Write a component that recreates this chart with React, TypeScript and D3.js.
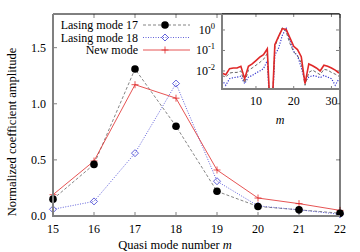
import React, { useEffect, useRef } from 'react';
import * as d3 from 'd3';

// quasi mode numbers m = 1..32 (inset), main plot shows 15..22
const modes = d3.range(1, 33);
const mainModes = [15, 16, 17, 18, 19, 20, 21, 22];

// coefficient amplitudes (m = 1..32); 0 at m = 14 drops out of the log inset
const lasing17 = [
  0.006, 0.005, 0.0079, 0.0085, 0.0085, 0.01, 0.0026, 0.011, 0.014, 0.019,
  0.026, 0.037, 0.07, 0, 0.15, 0.46, 1.31, 0.8, 0.22, 0.085, 0.055, 0.025,
  0.002, 0.0085, 0.011, 0.0085, 0.0066, 0.012, 0.011, 0.0085, 0.007, 0.0055,
];
const lasing18 = [
  0.0035, 0.002, 0.0042, 0.0047, 0.005, 0.0055, 0.0024, 0.005, 0.006, 0.0079,
  0.01, 0.013, 0.032, 0, 0.06, 0.13, 0.56, 1.18, 0.31, 0.09, 0.055, 0.015,
  0.003, 0.005, 0.006, 0.0055, 0.0047, 0.006, 0.005, 0.0042, 0.002, 0.0042,
];
const newMode = [
  0.0079, 0.0066, 0.013, 0.014, 0.014, 0.017, 0.0042, 0.017, 0.022, 0.032,
  0.047, 0.063, 0.12, 0, 0.19, 0.49, 1.17, 1.05, 0.41, 0.16, 0.11, 0.05,
  0.0024, 0.022, 0.018, 0.014, 0.01, 0.019, 0.017, 0.014, 0.011, 0.0079,
];

const yTicks = [0, 0.5, 1.0, 1.5];
const insetXTicks = [10, 20, 30];
const insetYTicks = [0, -1, -2]; // powers of ten
const legendLabels = ['Lasing mode 17', 'Lasing mode 18', 'New mode'];

const FONT = '"Liberation Serif", "DejaVu Serif", serif';
const GRAY = '#808080';
const BLACK_LINE = '#666666';
const BLUE = '#3a3ad0';
const RED = '#e02828';

const App: React.FC = () => {
  const ref = useRef(null);

  useEffect(() => {
    if (!ref.current) return;
    const svg = d3.select(ref.current);
    svg.selectAll('*').remove();

    const left = 53;
    const right = 340;
    const top = 14;
    const bottom = 216;

    const x = d3.scaleLinear().domain([15, 22]).range([left, right]);
    const y = d3.scaleLinear().domain([0, 1.8]).range([bottom, top]);

    // ticks (mirrored like gnuplot)
    const ticks = svg.append('g').attr('stroke', GRAY).attr('stroke-width', 1);
    mainModes.forEach((m) => {
      ticks.append('line').attr('x1', x(m)).attr('x2', x(m)).attr('y1', bottom).attr('y2', bottom - 4);
      ticks.append('line').attr('x1', x(m)).attr('x2', x(m)).attr('y1', top).attr('y2', top + 4);
    });
    yTicks.forEach((v) => {
      ticks.append('line').attr('x1', left).attr('x2', left + 4).attr('y1', y(v)).attr('y2', y(v));
      ticks.append('line').attr('x1', right).attr('x2', right - 4).attr('y1', y(v)).attr('y2', y(v));
    });

    // tick labels
    svg
      .append('g')
      .selectAll('text')
      .data(mainModes)
      .enter()
      .append('text')
      .attr('x', (d) => x(d))
      .attr('y', 233)
      .attr('text-anchor', 'middle')
      .attr('font-family', FONT)
      .attr('font-size', 12)
      .text((d) => d);
    svg
      .append('g')
      .selectAll('text')
      .data(yTicks)
      .enter()
      .append('text')
      .attr('x', 46)
      .attr('y', (d) => y(d) + 4)
      .attr('text-anchor', 'end')
      .attr('font-family', FONT)
      .attr('font-size', 12)
      .text((d) => d.toFixed(1));

    // axis titles
    svg
      .append('text')
      .attr('transform', `translate(16,132) rotate(-90)`)
      .attr('text-anchor', 'middle')
      .attr('font-family', FONT)
      .attr('font-size', 12.5)
      .text('Normalized coefficient amplitude');
    const xt = svg
      .append('text')
      .attr('x', 175)
      .attr('y', 249)
      .attr('text-anchor', 'middle')
      .attr('font-family', FONT)
      .attr('font-size', 12.5);
    xt.append('tspan').text('Quasi mode number ');
    xt.append('tspan').attr('font-style', 'italic').text('m');

    // main series
    const pick = (arr: number[]) => mainModes.map((m) => ({ m, v: arr[m - 1] }));
    const line = d3
      .line<{ m: number; v: number }>()
      .x((d) => x(d.m))
      .y((d) => y(d.v));

    const s17 = pick(lasing17);
    const s18 = pick(lasing18);
    const sNew = pick(newMode);

    svg.append('path').attr('d', line(s17)).attr('fill', 'none').attr('stroke', BLACK_LINE).attr('stroke-width', 0.8).attr('stroke-dasharray', '3,2');
    svg.append('path').attr('d', line(s18)).attr('fill', 'none').attr('stroke', BLUE).attr('stroke-width', 0.8).attr('stroke-dasharray', '1,1.5');
    svg.append('path').attr('d', line(sNew)).attr('fill', 'none').attr('stroke', RED).attr('stroke-width', 0.8);

    const diamond = (cx: number, cy: number, r: number) =>
      `M${cx},${cy - r}L${cx + r},${cy}L${cx},${cy + r}L${cx - r},${cy}Z`;
    const plus = (cx: number, cy: number, r: number) =>
      `M${cx - r},${cy}H${cx + r}M${cx},${cy - r}V${cy + r}`;

    svg.append('g').selectAll('path').data(s18).enter().append('path')
      .attr('d', (d) => diamond(x(d.m), y(d.v), 3.5))
      .attr('fill', 'none').attr('stroke', BLUE).attr('stroke-width', 0.8);
    svg.append('g').selectAll('path').data(sNew).enter().append('path')
      .attr('d', (d) => plus(x(d.m), y(d.v), 3.5))
      .attr('fill', 'none').attr('stroke', RED).attr('stroke-width', 0.8);
    svg.append('g').selectAll('circle').data(s17).enter().append('circle')
      .attr('cx', (d) => x(d.m)).attr('cy', (d) => y(d.v)).attr('r', 3.8).attr('fill', '#000');

    // legend
    const legendY = [25, 37.5, 50];
    const lg = svg.append('g');
    legendLabels.forEach((lab, i) => {
      const ly = legendY[i];
      lg.append('text').attr('x', 138).attr('y', ly + 4).attr('text-anchor', 'end')
        .attr('font-family', FONT).attr('font-size', 12).text(lab);
      const l = lg.append('line').attr('x1', 143).attr('x2', 190).attr('y1', ly).attr('y2', ly).attr('stroke-width', 0.8);
      if (i === 0) {
        l.attr('stroke', BLACK_LINE).attr('stroke-dasharray', '3,2');
        lg.append('circle').attr('cx', 165).attr('cy', ly).attr('r', 3.8).attr('fill', '#000');
      } else if (i === 1) {
        l.attr('stroke', BLUE).attr('stroke-dasharray', '1,1.5');
        lg.append('path').attr('d', diamond(165, ly, 3.5)).attr('fill', 'none').attr('stroke', BLUE).attr('stroke-width', 0.8);
      } else {
        l.attr('stroke', RED);
        lg.append('path').attr('d', plus(165, ly, 3.5)).attr('fill', 'none').attr('stroke', RED).attr('stroke-width', 0.8);
      }
    });

    // main borders
    svg.append('line').attr('x1', left).attr('x2', right).attr('y1', top).attr('y2', top).attr('stroke', '#000').attr('stroke-width', 1);
    svg.append('line').attr('x1', right).attr('x2', right).attr('y1', top).attr('y2', bottom).attr('stroke', '#000').attr('stroke-width', 1);
    svg.append('line').attr('x1', left).attr('x2', left).attr('y1', top).attr('y2', bottom + 1).attr('stroke', GRAY).attr('stroke-width', 2);
    svg.append('line').attr('x1', left - 1).attr('x2', right).attr('y1', bottom).attr('y2', bottom).attr('stroke', GRAY).attr('stroke-width', 2);

    // inset
    const il = 222;
    const ir = 339;
    const it = 14;
    const ib = 89;
    const ix = d3.scaleLinear().domain([1, 32]).range([il, ir]);
    const iy = d3.scaleLog().domain([Math.pow(10, -2.88), Math.pow(10, 0.78)]).range([ib, it]);

    svg.append('rect').attr('x', il).attr('y', it).attr('width', ir - il).attr('height', ib - it).attr('fill', '#fff');

    const defs = svg.append('defs');
    defs.append('clipPath').attr('id', 'inset-clip').append('rect')
      .attr('x', il).attr('y', it).attr('width', ir - il).attr('height', ib - it);

    const itk = svg.append('g').attr('stroke', GRAY).attr('stroke-width', 1);
    insetXTicks.forEach((m) => {
      itk.append('line').attr('x1', ix(m)).attr('x2', ix(m)).attr('y1', ib).attr('y2', ib - 3);
      itk.append('line').attr('x1', ix(m)).attr('x2', ix(m)).attr('y1', it).attr('y2', it + 3);
    });
    insetYTicks.forEach((p) => {
      const yy = iy(Math.pow(10, p));
      itk.append('line').attr('x1', il).attr('x2', il + 3).attr('y1', yy).attr('y2', yy);
      itk.append('line').attr('x1', ir).attr('x2', ir - 3).attr('y1', yy).attr('y2', yy);
    });

    const iline = d3
      .line<number>()
      .x((_, i) => ix(modes[i]))
      .y((d) => iy(Math.max(d, 1e-5)));
    const ig = svg.append('g').attr('clip-path', 'url(#inset-clip)');
    ig.append('path').attr('d', iline(lasing18)).attr('fill', 'none').attr('stroke', BLUE).attr('stroke-width', 1.2).attr('stroke-dasharray', '1.2,1.5');
    ig.append('path').attr('d', iline(lasing17)).attr('fill', 'none').attr('stroke', BLACK_LINE).attr('stroke-width', 1).attr('stroke-dasharray', '3,2');
    ig.append('path').attr('d', iline(newMode)).attr('fill', 'none').attr('stroke', RED).attr('stroke-width', 1.6);

    svg.append('g').selectAll('text').data(insetXTicks).enter().append('text')
      .attr('x', (d) => ix(d)).attr('y', 105).attr('text-anchor', 'middle')
      .attr('font-family', FONT).attr('font-size', 12).text((d) => d);
    insetYTicks.forEach((p) => {
      const t = svg.append('text').attr('x', 215).attr('y', iy(Math.pow(10, p)) + 4)
        .attr('text-anchor', 'end').attr('font-family', FONT).attr('font-size', 12);
      t.append('tspan').text('10');
      t.append('tspan').attr('font-size', 8.5).attr('dy', -5).text(String(p));
    });
    svg.append('text').attr('x', 280).attr('y', 124).attr('text-anchor', 'middle')
      .attr('font-family', FONT).attr('font-size', 12).attr('font-style', 'italic').text('m');

    svg.append('line').attr('x1', il).attr('x2', ir).attr('y1', it).attr('y2', it).attr('stroke', '#000').attr('stroke-width', 1);
    svg.append('line').attr('x1', il).attr('x2', il).attr('y1', it).attr('y2', ib + 1).attr('stroke', GRAY).attr('stroke-width', 2);
    svg.append('line').attr('x1', il - 1).attr('x2', ir).attr('y1', ib).attr('y2', ib).attr('stroke', GRAY).attr('stroke-width', 2);
  }, []);

  return (
    <svg
      ref={ref}
      width={360}
      height={252}
      style={{ position: 'absolute', left: 0, top: 0, background: '#fff' }}
    />
  );
};

export default App;
